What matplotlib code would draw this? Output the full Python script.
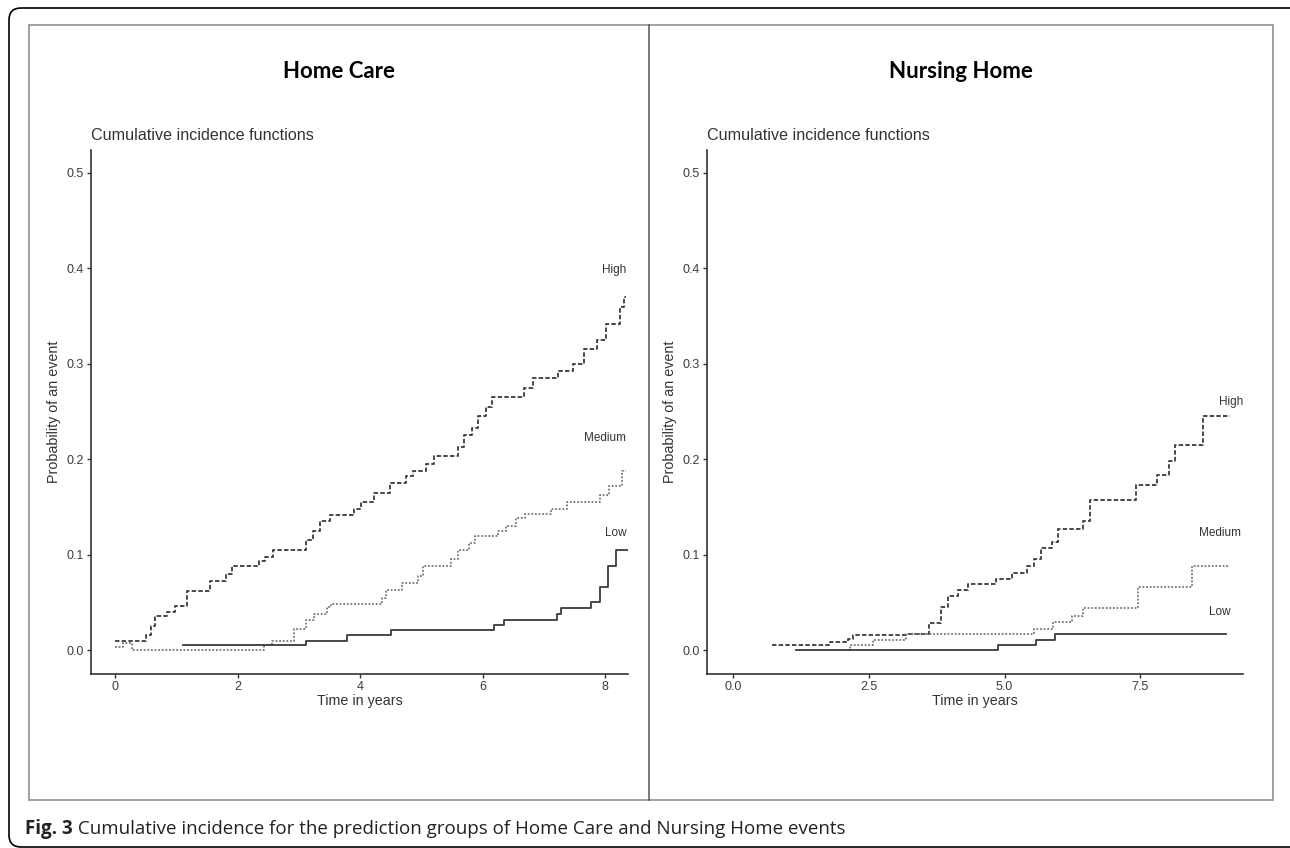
#!/usr/bin/env python3
"""Cumulative incidence step curves for Home Care and Nursing Home"""
import matplotlib
matplotlib.use("Agg")
import matplotlib.pyplot as plt
from matplotlib.patches import FancyBboxPatch, Rectangle
from matplotlib.lines import Line2D

# ---- data (jump times in years, value after jump) ----
hc_high_t = [0.0, 0.50, 0.58, 0.65, 0.85, 0.98, 1.17, 1.55, 1.80, 1.90,
             2.35, 2.45, 2.58, 3.12, 3.22, 3.35, 3.50, 3.90, 4.02, 4.22,
             4.48, 4.75, 4.87, 5.08, 5.20, 5.60, 5.70, 5.82, 5.92, 6.05,
             6.15, 6.68, 6.82, 7.24, 7.48, 7.66, 7.87, 8.02, 8.25, 8.31, 8.35]
hc_high_y = [0.010, 0.016, 0.025, 0.036, 0.040, 0.046, 0.062, 0.072, 0.080, 0.088,
             0.093, 0.098, 0.105, 0.115, 0.125, 0.135, 0.142, 0.148, 0.155, 0.165,
             0.175, 0.182, 0.188, 0.195, 0.203, 0.213, 0.225, 0.233, 0.245, 0.255,
             0.265, 0.275, 0.285, 0.292, 0.300, 0.315, 0.325, 0.342, 0.360, 0.370, 0.370]

hc_med_t = [0.0, 0.12, 0.27, 2.42, 2.55, 2.92, 3.12, 3.25, 3.45, 3.52,
            4.35, 4.42, 4.68, 4.95, 5.03, 5.48, 5.60, 5.77, 5.88, 6.25,
            6.38, 6.55, 6.70, 7.12, 7.38, 7.92, 8.06, 8.27, 8.35]
hc_med_y = [0.003, 0.007, 0.0, 0.005, 0.010, 0.022, 0.032, 0.038, 0.045, 0.048,
            0.055, 0.063, 0.070, 0.078, 0.088, 0.095, 0.105, 0.112, 0.120, 0.125,
            0.130, 0.138, 0.143, 0.148, 0.155, 0.163, 0.172, 0.188, 0.188]

hc_low_t = [1.10, 3.12, 3.78, 4.50, 6.18, 6.35, 7.22, 7.28, 7.77, 7.92, 8.05, 8.18, 8.37]
hc_low_y = [0.005, 0.010, 0.016, 0.021, 0.026, 0.032, 0.038, 0.044, 0.050, 0.066, 0.088, 0.105, 0.105]

nh_high_t = [0.72, 1.79, 2.12, 2.20, 3.20, 3.60, 3.82, 3.95, 4.15, 4.32,
             4.85, 5.13, 5.42, 5.55, 5.67, 5.87, 5.98, 6.45, 6.58, 7.42,
             7.80, 8.02, 8.13, 8.66, 9.15]
nh_high_y = [0.005, 0.009, 0.012, 0.016, 0.017, 0.028, 0.045, 0.057, 0.063, 0.069,
             0.075, 0.081, 0.088, 0.096, 0.107, 0.113, 0.127, 0.135, 0.157, 0.173,
             0.183, 0.198, 0.215, 0.245, 0.245]

nh_med_t = [2.12, 2.15, 2.58, 3.18, 5.54, 5.89, 6.25, 6.45, 7.45, 8.45, 9.15]
nh_med_y = [0.0, 0.005, 0.011, 0.017, 0.022, 0.029, 0.036, 0.044, 0.066, 0.088, 0.088]

nh_low_t = [1.16, 4.88, 5.58, 5.92, 9.08]
nh_low_y = [0.0, 0.005, 0.011, 0.017, 0.017]

groups = ["High", "Medium", "Low"]
hc_label_x = [8.35, 8.35, 8.35]
hc_label_y = [0.398, 0.222, 0.123]
nh_label_x = [9.40, 9.36, 9.17]
nh_label_y = [0.260, 0.123, 0.040]

panel_titles = ["Home Care", "Nursing Home"]
y_ticks = [0.0, 0.1, 0.2, 0.3, 0.4, 0.5]
hc_x_ticks = [0, 2, 4, 6, 8]
nh_x_ticks = [0.0, 2.5, 5.0, 7.5]
caption_bold = "Fig. 3"
caption_text = " Cumulative incidence for the prediction groups of Home Care and Nursing Home events"

W, H = 1290, 848
plt.rcParams["lines.scale_dashes"] = False
fig = plt.figure(figsize=(W / 100, H / 100), dpi=100)


def fx(px):
    return px / W


def fy(py):
    return 1 - py / H


# outer rounded frame (drawn in pixels, runs off the right edge)
fig.patches.append(FancyBboxPatch((9, 1), 1340, H - 9,
                                  boxstyle="round,pad=0,rounding_size=12",
                                  transform=None, fill=False,
                                  edgecolor="black", linewidth=1.2))
# inner grey box with divider
fig.patches.append(Rectangle((fx(29), fy(800)), fx(1273 - 29), (800 - 25) / H,
                             transform=fig.transFigure, fill=False,
                             edgecolor="#999999", linewidth=1.3))
fig.lines.append(Line2D([fx(649), fx(649)], [fy(25), fy(800)],
                        transform=fig.transFigure, color="#555555", linewidth=1.1))

styles = {"High": (0, (3.2, 1.6)), "Medium": (0, (1.3, 1.3)), "Low": "solid"}
colors = {"High": "#3a3a3a", "Medium": "#6a6a6a", "Low": "#3a3a3a"}

panels = [
    dict(left=91, right=628, xlim=(-0.40, 8.376), xticks=hc_x_ticks,
         curves=[(hc_high_t, hc_high_y), (hc_med_t, hc_med_y), (hc_low_t, hc_low_y)],
         lx=hc_label_x, ly=hc_label_y, title_x=339),
    dict(left=707, right=1243, xlim=(-0.48, 9.39), xticks=nh_x_ticks,
         curves=[(nh_high_t, nh_high_y), (nh_med_t, nh_med_y), (nh_low_t, nh_low_y)],
         lx=nh_label_x, ly=nh_label_y, title_x=961),
]

top, bottom = 150, 674
for p, title in zip(panels, panel_titles):
    ax = fig.add_axes([fx(p["left"]), fy(bottom), fx(p["right"] - p["left"]),
                       (bottom - top) / H])
    for g, (t, y) in zip(groups, p["curves"]):
        ax.step(t, y, where="post", linestyle=styles[g], color=colors[g],
                linewidth=1.3 if g != "Medium" else 1.2)
    for g, x, y in zip(groups, p["lx"], p["ly"]):
        ax.text(x, y, g, ha="right", va="center", fontsize=8.5,
                family="Liberation Sans", color="#333333")
    ax.set_xlim(*p["xlim"])
    ax.set_ylim(-0.025, 0.524)
    ax.set_yticks(y_ticks)
    ax.set_xticks(p["xticks"])
    ax.set_xticklabels([str(v) for v in p["xticks"]])
    ax.set_yticklabels(["%.1f" % v for v in y_ticks])
    for s in ["top", "right"]:
        ax.spines[s].set_visible(False)
    for s in ["left", "bottom"]:
        ax.spines[s].set_color("#333333")
        ax.spines[s].set_linewidth(1.2)
    ax.tick_params(length=3, width=1, color="#333333", labelsize=9,
                   labelcolor="#3d3d3d", pad=2)
    for lab in ax.get_xticklabels() + ax.get_yticklabels():
        lab.set_family("Liberation Sans")
    ax.set_xlabel("Time in years", fontsize=10.3, family="Liberation Sans",
                  color="#333333", labelpad=1)
    ax.set_ylabel("Probability of an event", fontsize=10.3,
                  family="Liberation Sans", color="#333333", labelpad=4)
    fig.text(fx(p["left"]), fy(136), "Cumulative incidence functions",
             ha="left", va="center", fontsize=11.6, family="Liberation Sans",
             color="#333333")
    fig.text(fx(p["title_x"]), fy(72), title, ha="center", va="center",
             fontsize=16, fontweight="bold", family="Lato", color="black")

# caption
cap = fig.text(fx(25), fy(829), caption_bold, ha="left", va="center",
               fontsize=13.5, fontweight="bold", family="Open Sans", color="#222222")
fig.canvas.draw()
bb = cap.get_window_extent()
fig.text(bb.x1 / W, fy(829), caption_text, ha="left", va="center",
         fontsize=13.5, family="Open Sans", color="#222222")

fig.savefig("out.png", dpi=100)
